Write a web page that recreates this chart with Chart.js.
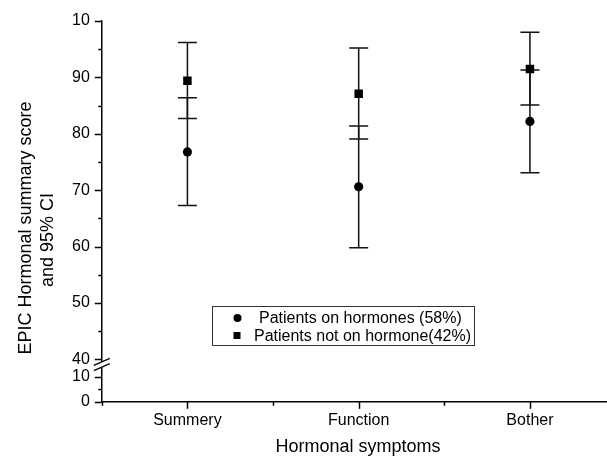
<!DOCTYPE html>
<html>
<head>
<meta charset="utf-8">
<script src="https://cdn.jsdelivr.net/npm/chart.js@4.4.1/dist/chart.umd.min.js"></script>
<style>
  html, body { margin: 0; padding: 0; background: #fff; overflow: hidden; }
  #wrap { width: 607px; height: 458px; position: relative; }
</style>
</head>
<body>
<div id="wrap"><canvas id="hormonalChart"></canvas></div>
<script>
// Categories and CI values
const categories = ['Summery', 'Function', 'Bother'];

const onHormoneMean = [76.8, 70.6, 82.2];
const onHormoneLow = [67.3, 59.8, 73.1];
const onHormoneHigh = [86.4, 81.4, 91.3];

const offHormoneMean = [89.4, 87.1, 91.5];
const offHormoneLow = [82.7, 79.1, 85.1];
const offHormoneHigh = [96.2, 95.2, 98.0];

// broken y axis: 0..10 squeezed below the break, 40..100 normal
const yTickValues = [32.5, 34.7, 36.9, 40, 45, 50, 55, 60, 65, 70, 75, 80, 85, 90, 95, 100];
const yTickLabels = ['0', '', '10', '40', '', '50', '', '60', '', '70', '', '80', '', '90', '', '10'];
const xTickValues = [-0.5, 0, 0.5, 1, 1.5, 2];

const FONT = '"Liberation Sans", Arial, sans-serif';

function toPoints(vals) {
    return vals.map((v, i) => ({ x: i, y: v }));
}

const datasets = [
    {
        label: 'Patients on hormones (58%)',
        data: toPoints(onHormoneMean),
        low: onHormoneLow,
        high: onHormoneHigh,
        pointStyle: 'circle',
        pointRadius: 4.6,
        backgroundColor: '#000',
        borderColor: '#000',
        borderWidth: 0
    },
    {
        label: 'Patients not on hormone(42%)',
        data: toPoints(offHormoneMean),
        low: offHormoneLow,
        high: offHormoneHigh,
        pointStyle: 'rect',
        pointRadius: 6,
        backgroundColor: '#000',
        borderColor: '#000',
        borderWidth: 0
    }
];

// error bars, drawn under the markers
const errorBars = {
    id: 'errorBars',
    beforeDatasetsDraw(chart) {
        const ctx = chart.ctx;
        const xs = chart.scales.x, ys = chart.scales.y;
        ctx.save();
        ctx.strokeStyle = '#111';
        ctx.lineWidth = 1.5;
        chart.data.datasets.forEach(ds => {
            ds.data.forEach((p, i) => {
                const px = xs.getPixelForValue(p.x);
                const top = ys.getPixelForValue(ds.high[i]);
                const bot = ys.getPixelForValue(ds.low[i]);
                ctx.beginPath();
                ctx.moveTo(px, top); ctx.lineTo(px, bot);
                ctx.moveTo(px - 9.5, top); ctx.lineTo(px + 9.5, top);
                ctx.moveTo(px - 9.5, bot); ctx.lineTo(px + 9.5, bot);
                ctx.stroke();
            });
        });
        ctx.restore();
    }
};

// ticks, axis break, legend box and axis titles
const decorations = {
    id: 'decorations',
    afterDraw(chart) {
        const ctx = chart.ctx;
        const xs = chart.scales.x, ys = chart.scales.y;
        const area = chart.chartArea;
        ctx.save();
        ctx.strokeStyle = '#000';
        ctx.lineWidth = 1.5;

        ys.ticks.forEach((t, i) => {
            const py = Math.round(ys.getPixelForValue(t.value)) + 0.5;
            const len = yTickLabels[i] ? 7 : 3.5;
            ctx.beginPath();
            ctx.moveTo(area.left - len, py); ctx.lineTo(area.left, py);
            ctx.stroke();
        });
        xs.ticks.forEach(t => {
            const px = Math.round(xs.getPixelForValue(t.value)) + 0.5;
            const len = Number.isInteger(t.value) ? 7 : 4;
            ctx.beginPath();
            ctx.moveTo(px, area.bottom); ctx.lineTo(px, area.bottom + len);
            ctx.stroke();
        });

        // axis break
        const cy = ys.getPixelForValue(39.1);
        const ax = area.left;
        ctx.fillStyle = '#fff';
        ctx.fillRect(ax - 2, cy - 2.5, 4, 5);
        ctx.lineWidth = 1.3;
        [-2.6, 2.6].forEach(d => {
            ctx.beginPath();
            ctx.moveTo(ax - 8, cy + d + 3.5);
            ctx.lineTo(ax + 8, cy + d - 3.5);
            ctx.stroke();
        });

        // legend
        const lx = 212.5, ly = 306.5, lw = 262, lh = 39;
        ctx.lineWidth = 1;
        ctx.strokeStyle = '#333';
        ctx.strokeRect(lx, ly, lw, lh);
        ctx.fillStyle = '#000';
        ctx.font = '16px ' + FONT;
        ctx.textBaseline = 'middle';
        ctx.textAlign = 'left';
        const rows = [
            { y: ly + 11.5, textX: 259 },
            { y: ly + 29, textX: 254 }
        ];
        chart.data.datasets.forEach((ds, i) => {
            const r = rows[i];
            ctx.beginPath();
            if (ds.pointStyle === 'circle') {
                ctx.arc(237.5, r.y, 4, 0, Math.PI * 2);
            } else {
                ctx.rect(233.5, r.y - 3.5, 7, 7);
            }
            ctx.fill();
            ctx.fillText(ds.label, r.textX, r.y + 1);
        });

        // axis titles
        ctx.font = '18px ' + FONT;
        ctx.textAlign = 'center';
        ctx.fillText('Hormonal symptoms', 358, 447);
        ctx.save();
        ctx.translate(26, 228);
        ctx.rotate(-Math.PI / 2);
        ctx.fillText('EPIC Hormonal summary score', 0, 0);
        ctx.restore();
        ctx.save();
        ctx.translate(48, 240);
        ctx.rotate(-Math.PI / 2);
        ctx.fillText('and 95% CI', 0, 0);
        ctx.restore();

        ctx.restore();
    }
};

Chart.defaults.font.family = FONT;
Chart.defaults.color = '#000';

new Chart(document.getElementById('hormonalChart'), {
    type: 'scatter',
    data: { datasets: datasets },
    options: {
        responsive: true,
        maintainAspectRatio: false,
        animation: false,
        layout: { autoPadding: false, padding: { left: 68, top: 21, right: 0, bottom: 27 } },
        plugins: {
            legend: { display: false },
            tooltip: { enabled: false }
        },
        scales: {
            x: {
                type: 'linear',
                min: -0.5,
                max: 2.45,
                afterBuildTicks: s => { s.ticks = xTickValues.map(v => ({ value: v })); },
                grid: { display: false },
                border: { display: true, color: '#000', width: 1.5 },
                ticks: {
                    autoSkip: false,
                    maxRotation: 0,
                    padding: 1,
                    font: { size: 16 },
                    callback: v => Number.isInteger(v) ? categories[v] : ''
                }
            },
            y: {
                type: 'linear',
                min: 32.5,
                max: 100,
                afterBuildTicks: s => { s.ticks = yTickValues.map(v => ({ value: v })); },
                grid: { display: false },
                border: { display: true, color: '#000', width: 1.5 },
                ticks: {
                    autoSkip: false,
                    padding: 4,
                    font: { size: 16 },
                    callback: (v, i) => yTickLabels[i]
                }
            }
        }
    },
    plugins: [errorBars, decorations]
});
</script>
</body>
</html>
